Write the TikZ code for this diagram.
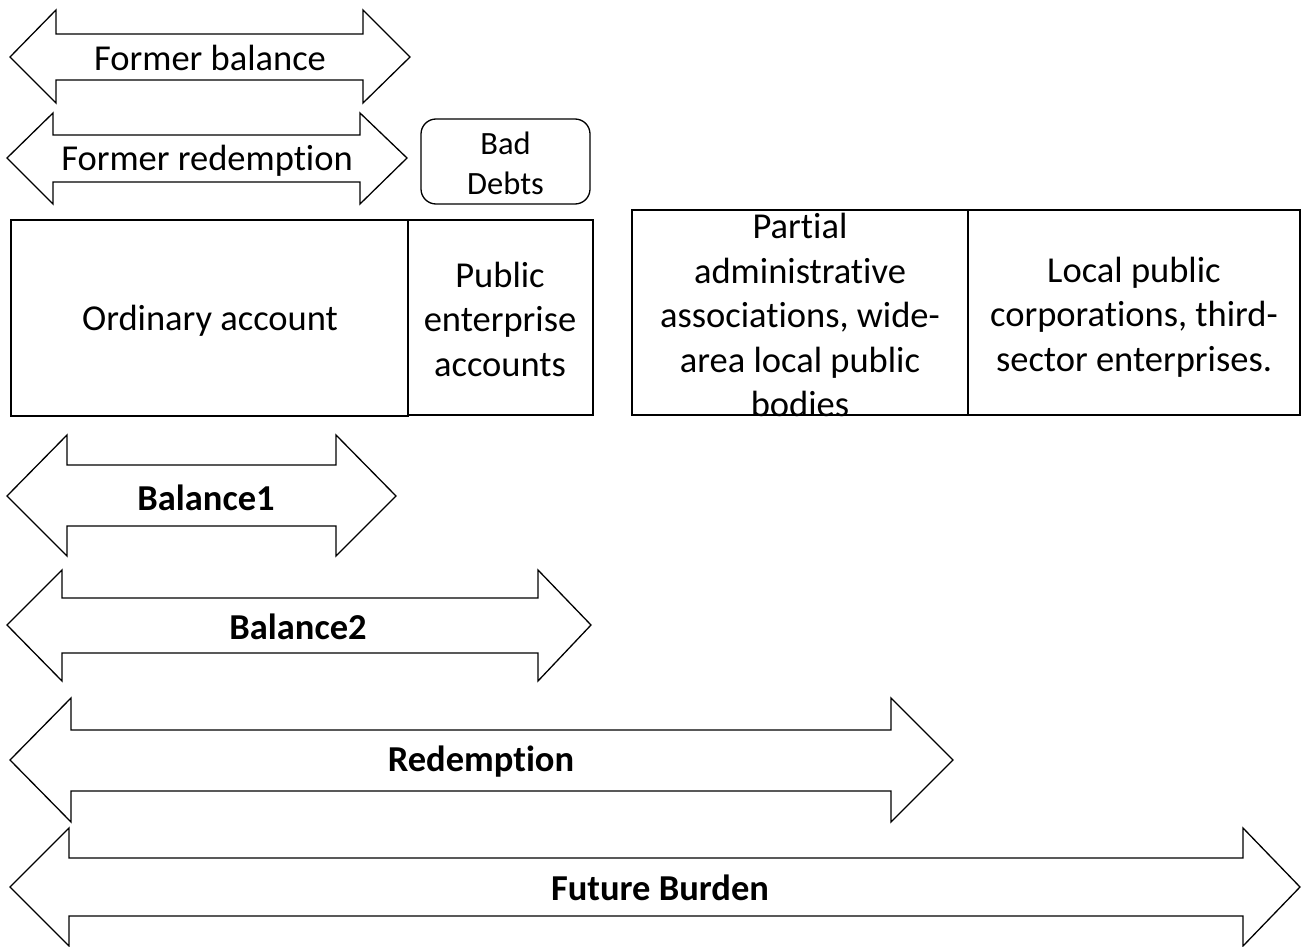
\documentclass[tikz,border=0pt]{standalone}
\usepackage{fontspec}
\setmainfont{Carlito}[Ligatures=NoCommon]
\begin{document}
\begin{tikzpicture}[x=1pt,y=-1pt,
  shapeline/.style={draw=black,line width=1.3pt,line join=miter},
  lbl/.style={font=\fontsize{36.5}{44.5}\selectfont,align=center,inner sep=0pt},
  blbl/.style={font=\fontsize{36.5}{44.5}\selectfont\bfseries,align=center,inner sep=0pt},
  slbl/.style={font=\fontsize{32.5}{40}\selectfont,align=center,inner sep=0pt}]
\useasboundingbox (0,0) rectangle (1306,947);
\newcommand\DArrow[9]{%
  \draw[shapeline] (#1,#9) -- (#2,#5) -- (#2,#6) -- (#3,#6) -- (#3,#5) -- (#4,#9)
    -- (#3,#8) -- (#3,#7) -- (#2,#7) -- (#2,#8) -- cycle;}
% double arrows
\DArrow{10}{56}{363}{410}{10}{34}{80}{103}{57}
\DArrow{7}{53}{360}{407}{113}{135}{182}{204}{158}
\DArrow{7}{67}{336}{396}{435}{465}{526}{556}{496}
\DArrow{7}{62}{538}{591}{570}{598}{653}{681}{625}
\DArrow{10}{71}{891}{953}{698}{730}{791}{822}{760}
\DArrow{10}{69}{1243}{1300}{828}{858}{916}{946}{887}
\node[lbl]  (fbal) at (210,58) {Former balance};
\node[lbl]  (fred) at (207,161) {Former redemption};
\node[blbl] (bal1) at (206,498) {Balance1};
\node[blbl] (bal2) at (298,627) {Balance2};
\node[blbl] (red)  at (481,762) {Redemption};
\node[blbl] (fut)  at (660,888) {Future Burden};
% boxes
\draw[shapeline,rounded corners=15pt] (421,119) rectangle (590,204);
\node[slbl] (bad) at (505.5,163) {Bad\\Debts};
\draw[shapeline] (11,220) rectangle (408,416);
\draw[shapeline] (408,220) rectangle (593,415);
\node[lbl] (ord) at (210,321) {Ordinary account};
\node[lbl] (pub) at (500,319) {Public\\enterprise\\accounts};
\node[lbl] (part) at (800,315) {Partial\\administrative\\associations, wide-\\area local public\\bodies};
\node[lbl] (loc) at (1134,317) {Local public\\corporations, third-\\sector enterprises.};
\draw[shapeline] (632,210) rectangle (968,415);
\draw[shapeline] (968,210) rectangle (1300,415);
\end{tikzpicture}
\end{document}
